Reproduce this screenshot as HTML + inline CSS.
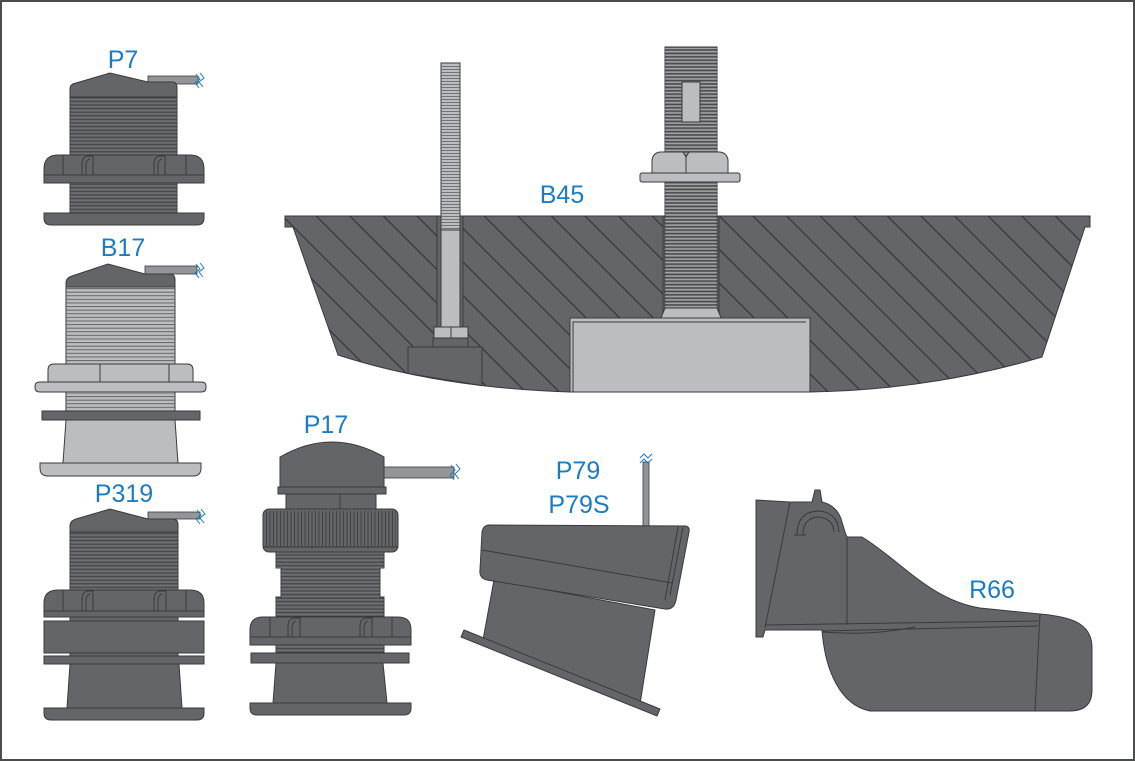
<!DOCTYPE html>
<html><head><meta charset="utf-8">
<style>
html,body{margin:0;padding:0;background:#fff}
svg{display:block}
text{font-family:"Liberation Sans",sans-serif;fill:#1b7bc3;font-size:25px;text-anchor:middle}
</style></head><body>
<svg width="1135" height="761" viewBox="0 0 1135 761" xmlns="http://www.w3.org/2000/svg">
<defs>
  <pattern id="hatch" patternUnits="userSpaceOnUse" width="33.6" height="33.6" x="33" y="0">
    <path d="M-1,-1 L34.6,34.6 M32.6,-1 L34.6,1 M-1,32.6 L1,34.6" stroke="#2e2e30" stroke-width="1" fill="none"/>
  </pattern>
  <pattern id="thD" patternUnits="userSpaceOnUse" width="300" height="3.6">
    <path d="M0,0.6 H300" stroke="#3a3a3c" stroke-width="0.8"/>
    <path d="M0,2.2 H300" stroke="#7a7b7e" stroke-width="0.5"/>
  </pattern>
  <pattern id="thL" patternUnits="userSpaceOnUse" width="300" height="3.6">
    <path d="M0,0.6 H300" stroke="#5a5b5d" stroke-width="0.9"/>
  </pattern>
  <pattern id="thS" patternUnits="userSpaceOnUse" width="300" height="3.4">
    <path d="M0,0.7 H300" stroke="#b4b5b8" stroke-width="1"/>
    <path d="M0,2.3 H300" stroke="#3a3a3c" stroke-width="0.8"/>
  </pattern>
  <pattern id="thB" patternUnits="userSpaceOnUse" width="300" height="3">
    <path d="M0,0.5 H300" stroke="#58595b" stroke-width="0.8"/>
  </pattern>
  <pattern id="knurl" patternUnits="userSpaceOnUse" width="3.5" height="100">
    <path d="M0.5,0 V100" stroke="#3a3a3c" stroke-width="0.8"/>
  </pattern>
</defs>

<rect x="1" y="1" width="1133" height="759" fill="#fff" stroke="#4a4c4e" stroke-width="2"/>

<!-- ===== P7 ===== -->
<text x="123" y="68">P7</text>
<rect x="148" y="76" width="50" height="8" fill="#939598" stroke="#3a3a3c" stroke-width="0.8"/>
<path d="M196,74 L200,79 L195,83 L199,88 M200,73 L204,78 L199,82 L203,87" stroke="#1b7bc3" stroke-width="1" fill="none"/>
<path d="M70,155 L70,89 Q70,84 76,83 L110,73 L148,82 L172,82 Q177,82 177,88 L177,155 Z" fill="#646569" stroke="#3a3a3c"/>
<rect x="70" y="97" width="107" height="58" fill="url(#thD)"/>
<line x1="70" y1="97" x2="177" y2="97" stroke="#3a3a3c"/>
<rect x="70" y="183" width="107" height="30" fill="#646569" stroke="#3a3a3c"/>
<rect x="70" y="184" width="107" height="29" fill="url(#thD)"/>
<path d="M44,169 Q44,155 58,155 L190,155 Q204,155 204,169 L204,183 L44,183 Z" fill="#646569" stroke="#3a3a3c"/>
<path d="M44,175 H204 M63,155 V175 M186,155 V175" stroke="#3a3a3c" fill="none"/>
<path d="M82,175 V164 Q82,156 89,156 L93,156 L93,175 M86,175 V165 Q86,160 90,159 M154,175 V164 Q154,156 161,156 L165,156 L165,175 M158,175 V165 Q158,160 162,159" stroke="#3a3a3c" fill="none"/>
<path d="M44,213 H204 V218 Q204,225 197,225 H51 Q44,225 44,218 Z" fill="#646569" stroke="#3a3a3c"/>

<!-- ===== B17 ===== -->
<text x="123" y="256">B17</text>
<rect x="145" y="266" width="52" height="8" fill="#939598" stroke="#3a3a3c" stroke-width="0.8"/>
<path d="M196,264 L200,269 L195,273 L199,278 M200,263 L204,268 L199,272 L203,277" stroke="#1b7bc3" stroke-width="1" fill="none"/>
<path d="M66,287 L66,283 Q66,278 72,276 L108,264 L145,274 L170,274 Q175,274 175,280 L175,287 Z" fill="#646569" stroke="#3a3a3c"/>
<rect x="66" y="287" width="109" height="77" fill="#bcbdc0" stroke="#3a3a3c"/>
<rect x="66" y="288" width="109" height="75" fill="url(#thL)"/>
<rect x="66" y="392" width="109" height="19" fill="#bcbdc0" stroke="#3a3a3c"/>
<rect x="66" y="393" width="109" height="18" fill="url(#thL)"/>
<path d="M48,382 L48,370 Q48,364 54,364 L187,364 Q193,364 193,370 L193,382 Z" fill="#bcbdc0" stroke="#3a3a3c"/>
<path d="M100,364 V382 M169,364 V382" stroke="#3a3a3c"/>
<path d="M35,386 Q35,382 40,382 L201,382 Q206,382 206,386 L206,388 Q206,392 201,392 L40,392 Q35,392 35,388 Z" fill="#bcbdc0" stroke="#3a3a3c"/>
<rect x="42" y="411" width="158" height="9" fill="#646569" stroke="#3a3a3c"/>
<path d="M66,420 L175,420 L178,463 L63,463 Z" fill="#bcbdc0" stroke="#3a3a3c"/>
<path d="M40,463 H201 V468 Q201,476 193,476 H48 Q40,476 40,468 Z" fill="#bcbdc0" stroke="#3a3a3c"/>

<!-- ===== P319 ===== -->
<text x="124" y="502">P319</text>
<rect x="148" y="512" width="52" height="7" fill="#939598" stroke="#3a3a3c" stroke-width="0.8"/>
<path d="M197,510 L201,515 L196,519 L200,524 M201,509 L205,514 L200,518 L204,523" stroke="#1b7bc3" stroke-width="1" fill="none"/>
<path d="M70,591 L70,526 Q70,521 76,519 L110,509 L148,519 L173,519 Q178,519 178,525 L178,591 Z" fill="#646569" stroke="#3a3a3c"/>
<rect x="70" y="532" width="108" height="58" fill="url(#thD)"/>
<line x1="70" y1="532" x2="178" y2="532" stroke="#3a3a3c"/>
<path d="M44,603 Q44,590 58,590 L190,590 Q204,590 204,603 L204,617 L44,617 Z" fill="#646569" stroke="#3a3a3c"/>
<path d="M44,611 H204 M63,590 V611 M186,590 V611" stroke="#3a3a3c" fill="none"/>
<path d="M82,611 V600 Q82,591 89,591 L93,591 L93,611 M86,611 V601 Q86,595 90,594 M154,611 V600 Q154,591 161,591 L166,591 L166,611 M158,611 V601 Q158,595 162,594" stroke="#3a3a3c" fill="none"/>
<rect x="70" y="617" width="108" height="4" fill="#646569" stroke="#3a3a3c"/>
<rect x="44" y="621" width="160" height="32" fill="#646569" stroke="#3a3a3c"/>
<rect x="70" y="653" width="108" height="3" fill="#646569" stroke="#3a3a3c"/>
<rect x="44" y="656" width="160" height="8" fill="#646569" stroke="#3a3a3c"/>
<path d="M70,664 L179,664 L182,708 L67,708 Z" fill="#646569" stroke="#3a3a3c"/>
<path d="M44,708 H204 V713 Q204,720 197,720 H51 Q44,720 44,713 Z" fill="#646569" stroke="#3a3a3c"/>

<!-- ===== P17 ===== -->
<text x="326" y="433">P17</text>
<rect x="384" y="467" width="70" height="11" fill="#939598" stroke="#3a3a3c" stroke-width="0.8"/>
<path d="M451,465 L455,470 L450,475 L454,480 M456,464 L460,469 L455,474 L459,479" stroke="#1b7bc3" stroke-width="1" fill="none"/>
<path d="M280,487 L280,457 Q332,427 384,457 L384,487 Z" fill="#646569" stroke="#3a3a3c"/>
<path d="M278,487 L386,487 L386,494 L278,494 Z" fill="#646569" stroke="#3a3a3c"/>
<rect x="286" y="494" width="90" height="15" fill="#646569" stroke="#3a3a3c"/>
<line x1="340" y1="494" x2="340" y2="509" stroke="#3a3a3c"/>
<path d="M276,552 L384,552 L384,568 L380,568 L380,597 L384,597 L384,617 L276,617 L276,597 L281,597 L281,568 L276,568 Z" fill="#646569" stroke="#3a3a3c"/>
<path d="M276,552 L384,552 L384,568 L380,568 L380,597 L384,597 L384,617 L276,617 L276,597 L281,597 L281,568 L276,568 Z" fill="url(#thD)"/>
<rect x="263" y="509" width="135" height="43" rx="6" fill="#646569" stroke="#3a3a3c"/>
<rect x="265" y="511" width="131" height="36" fill="url(#knurl)"/>
<line x1="263" y1="547" x2="398" y2="547" stroke="#3a3a3c"/>
<path d="M250,630 Q250,617 263,617 L398,617 Q411,617 411,630 L411,645 L250,645 Z" fill="#646569" stroke="#3a3a3c"/>
<path d="M250,637 H411 M270,617 V637 M392,617 V637" stroke="#3a3a3c" fill="none"/>
<path d="M288,637 V627 Q288,618 295,618 L300,618 L300,637 M292,637 V628 Q292,622 296,621 M360,637 V627 Q360,618 367,618 L372,618 L372,637 M364,637 V628 Q364,622 368,621" stroke="#3a3a3c" fill="none"/>
<rect x="276" y="645" width="108" height="8" fill="#646569" stroke="#3a3a3c"/>
<rect x="276" y="646" width="108" height="7" fill="url(#thD)"/>
<rect x="251" y="653" width="158" height="10" fill="#646569" stroke="#3a3a3c"/>
<path d="M276,663 L383,663 L387,703 L273,703 Z" fill="#646569" stroke="#3a3a3c"/>
<path d="M250,703 H411 V708 Q411,715 404,715 H257 Q250,715 250,708 Z" fill="#646569" stroke="#3a3a3c"/>

<!-- ===== P79 ===== -->
<text x="578" y="479">P79</text>
<text x="579" y="513">P79S</text>
<rect x="643" y="462" width="6" height="64" fill="#939598" stroke="#3a3a3c" stroke-width="0.8"/>
<path d="M640,458 L644,454 L648,458 L652,454 M640,463 L644,459 L648,463 L652,459" stroke="#1b7bc3" stroke-width="1" fill="none"/>
<path d="M494,580 L655,610 L640,704 L483,640 Z" fill="#646569" stroke="#3a3a3c"/>
<path d="M464,630 L660,709 L657,716 L461,637 Z" fill="#646569" stroke="#3a3a3c"/>
<path d="M488,525 L686,526 Q690,527 689,532 L676,600 Q674,610 665,609 L487,580 Q479,578 480,570 L482,532 Q483,526 488,525 Z" fill="#646569" stroke="#3a3a3c"/>
<path d="M482,550 L672,583 M678,527 L665,600 M683,527 L670,595" stroke="#3a3a3c" fill="none"/>

<!-- ===== R66 ===== -->
<text x="992" y="598">R66</text>
<path d="M756,500 L790,502 L812,502 L815,490 L820,490 L822,502 Q838,506 842,522 L845,532 L847,537 L862,537 C900,560 930,600 980,608 L1040,614 C1075,617 1092,625 1092,648 L1092,690 Q1092,711 1070,711 L870,711 C840,705 825,670 822,630 L765,630 L763,637 L756,637 Z" fill="#646569" stroke="#3a3a3c"/>
<path d="M790,502 L765,628 M847,537 L847,625 M765,625 L1038,621 M822,631 L1038,626 M1040,614 L1035,711 M822,632 Q870,636 915,627" stroke="#3a3a3c" fill="none"/>
<path d="M797,535 Q797,512 818,511 Q838,512 839,532 M803,535 Q803,518 818,517 Q833,518 834,532 M794,535 H806" stroke="#3a3a3c" fill="none"/>

<!-- ===== B45 ===== -->
<text x="562" y="203">B45</text>
<path d="M285,216 L1090,216 L1090,227 L1085,227 L1042,357 Q930,390 810,392 L570,392 Q440,388 338,355 L293,227 L285,227 Z" fill="#646569" stroke="#3a3a3c"/>
<path d="M285,216 L1090,216 L1090,227 L1085,227 L1042,357 Q930,390 810,392 L570,392 Q440,388 338,355 L293,227 L285,227 Z" fill="url(#hatch)"/>
<!-- left channel & bolt -->
<rect x="437" y="216" width="26" height="111" fill="#646569" stroke="#3a3a3c"/>
<path d="M408,347 L482,347 L482,385.6 L408,373.5 Z" fill="#646569" stroke="#3a3a3c"/>
<rect x="433" y="338" width="35" height="9" fill="#646569" stroke="#3a3a3c"/>
<rect x="441" y="63" width="19" height="167" fill="#bcbdc0" stroke="#3a3a3c"/>
<rect x="441" y="64" width="19" height="166" fill="url(#thB)"/>
<rect x="441" y="230" width="19" height="97" fill="#bcbdc0" stroke="#3a3a3c"/>
<rect x="434" y="327" width="34" height="11" fill="#bcbdc0" stroke="#3a3a3c"/>
<line x1="451" y1="327" x2="451" y2="338" stroke="#3a3a3c"/>
<!-- main channel & stem -->
<rect x="663" y="216" width="56" height="102" fill="#646569" stroke="#3a3a3c"/>
<rect x="570" y="318" width="240" height="74" fill="#bcbdc0" stroke="#3a3a3c"/>
<path d="M573,392 L573,322 L806,322" stroke="#3a3a3c" fill="none"/>
<path d="M665,308 L717,308 L721,318 L661,318 Z" fill="#bcbdc0" stroke="#3a3a3c"/>
<rect x="665" y="47" width="52" height="261" fill="#6d6e71" stroke="#3a3a3c"/>
<rect x="665" y="48" width="52" height="260" fill="url(#thS)"/>
<rect x="682" y="82" width="18" height="40" fill="#bcbdc0" stroke="#3a3a3c"/>
<rect x="640" y="173" width="100" height="9" rx="2" fill="#bcbdc0" stroke="#3a3a3c"/>
<path d="M652,173 L652,160 Q653,153 660,152 L683,152 L686,157 L689,152 L720,152 Q727,153 728,160 L728,173 Z" fill="#bcbdc0" stroke="#3a3a3c"/>
<line x1="686" y1="157" x2="686" y2="173" stroke="#3a3a3c"/>
</svg>
</body></html>
